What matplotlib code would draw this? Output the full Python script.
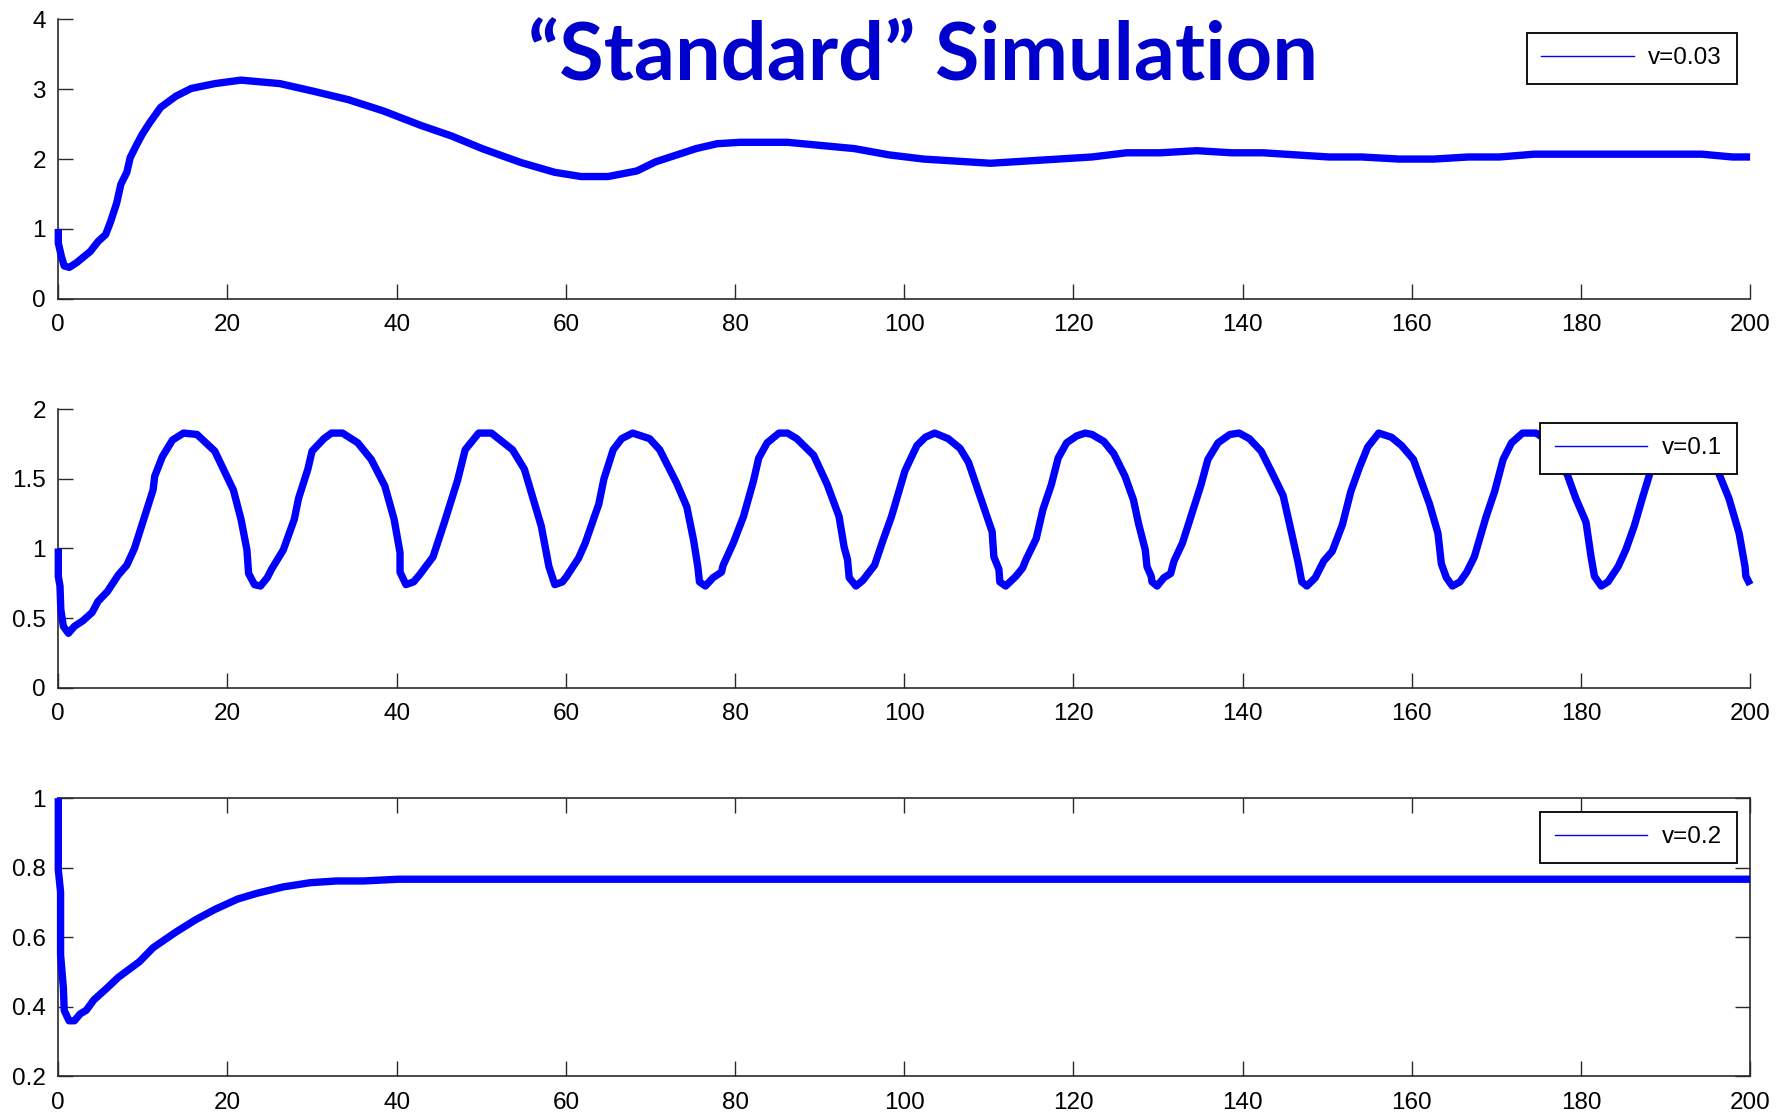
import matplotlib
matplotlib.use("Agg")
import matplotlib.pyplot as plt
from matplotlib.lines import Line2D

plt.rcParams['font.family'] = ['Liberation Sans', 'DejaVu Sans']

# ---------------- data ----------------
title_text = "\u201cStandard\u201d Simulation"
x_ticks = [0, 20, 40, 60, 80, 100, 120, 140, 160, 180, 200]
x_ticklabels = ["0", "20", "40", "60", "80", "100", "120", "140", "160", "180", "200"]

# panel 1: v=0.03
label_1 = "v=0.03"
t_1 = [0, 0, 0.36, 0.7, 1.3, 2.2, 3.1, 3.8, 4.7, 5.6, 6.2, 6.9, 7.4, 8.1, 8.5, 9.2, 9.9,
       10.8, 12.1, 13.9, 15.7, 18.5, 21.6, 26.2, 30.2, 34.3, 38.4, 42.9, 46.5, 50.1, 54.7,
       58.7, 61.8, 65.0, 68.4, 70.6, 75.4, 77.9, 80.6, 86.2, 94.1, 98.2, 102.3, 110.2,
       122.2, 126.3, 130.3, 134.6, 138.7, 142.4, 150.2, 154.1, 158.5, 162.6, 166.7, 170.4,
       174.5, 194.3, 197.9, 200]
y_1 = [1.0, 0.8, 0.61, 0.47, 0.45, 0.52, 0.61, 0.68, 0.82, 0.92, 1.11, 1.37, 1.64, 1.81,
       2.02, 2.19, 2.35, 2.52, 2.74, 2.90, 3.01, 3.08, 3.13, 3.08, 2.97, 2.85, 2.69, 2.48,
       2.33, 2.15, 1.95, 1.81, 1.75, 1.75, 1.83, 1.96, 2.15, 2.22, 2.24, 2.24, 2.15, 2.06,
       2.00, 1.94, 2.03, 2.09, 2.09, 2.12, 2.09, 2.09, 2.03, 2.03, 2.00, 2.00, 2.03, 2.03,
       2.07, 2.07, 2.03, 2.03]
y_ticks_1 = [0, 1, 2, 3, 4]
y_ticklabels_1 = ["0", "1", "2", "3", "4"]

# panel 2: v=0.1
label_2 = "v=0.1"
t_2 = [0, 0, 0.2, 0.3, 0.6, 1.2, 1.9, 2.9, 4.0, 4.7, 5.8, 7.1, 8.1, 9.0, 10.1, 11.2, 11.4,
       12.3, 13.5, 14.8, 16.4, 18.5, 20.7, 21.6, 22.3, 22.5, 23.2, 23.9, 24.7, 25.2, 26.6,
       27.9, 28.4, 29.5, 30.0, 31.4, 32.3, 33.6, 35.4, 37.0, 38.6, 39.7, 40.4, 40.4, 41.1,
       42.0, 42.7, 44.3, 45.6, 47.2, 48.1, 49.7, 51.2, 53.7, 55.1, 57.1, 58.0, 58.7, 59.6,
       60.1, 61.5, 62.3, 63.1, 63.9, 64.5, 65.6, 66.6, 67.9, 69.9, 71.1, 73.1, 74.3, 75.1,
       75.6, 75.8, 76.5, 77.4, 78.4, 78.6, 79.8, 81.0, 82.2, 82.8, 83.8, 85.2, 86.2, 87.3,
       89.3, 90.9, 92.3, 92.9, 93.3, 93.5, 94.3, 95.1, 96.5, 97.5, 98.5, 100.1, 101.5,
       102.5, 103.6, 105.2, 106.6, 107.6, 109.4, 110.4, 110.6, 111.2, 111.3, 112.0, 113.2,
       114.0, 114.4, 115.6, 116.4, 117.4, 118.2, 119.2, 120.4, 121.4, 122.2, 123.6, 124.8,
       126.1, 127.1, 127.7, 128.5, 128.7, 129.2, 129.3, 129.9, 130.7, 131.5, 131.9, 132.9,
       133.9, 135.1, 135.9, 137.1, 138.5, 139.6, 140.8, 142.2, 143.6, 144.8, 145.8, 146.6,
       147.0, 147.6, 148.6, 149.6, 150.6, 151.8, 152.8, 153.8, 154.8, 156.1, 157.6, 158.8,
       160.2, 162.1, 163.1, 163.5, 164.1, 164.8, 165.7, 166.5, 167.4, 168.8, 169.8, 170.8,
       171.8, 173.1, 174.7, 175.7, 178.4, 179.4, 180.6, 181.2, 181.6, 182.4, 183.2, 184.4,
       185.3, 186.3, 187.3, 188.1, 189.5, 191.0, 192.5, 194.5, 196.3, 197.5, 198.7, 199.4,
       199.5, 200.0]
y_2 = [1.0, 0.8, 0.73, 0.56, 0.44, 0.39, 0.44, 0.48, 0.54, 0.62, 0.69, 0.81, 0.88, 1.00,
       1.21, 1.42, 1.52, 1.66, 1.78, 1.83, 1.82, 1.70, 1.42, 1.21, 0.99, 0.82, 0.74, 0.73,
       0.79, 0.85, 0.99, 1.21, 1.36, 1.57, 1.70, 1.79, 1.83, 1.83, 1.76, 1.64, 1.45, 1.21,
       0.97, 0.83, 0.74, 0.76, 0.81, 0.94, 1.18, 1.49, 1.71, 1.83, 1.83, 1.71, 1.57, 1.16,
       0.87, 0.74, 0.76, 0.80, 0.93, 1.04, 1.18, 1.32, 1.50, 1.71, 1.79, 1.83, 1.79, 1.71,
       1.47, 1.30, 1.06, 0.87, 0.76, 0.73, 0.79, 0.83, 0.88, 1.04, 1.23, 1.49, 1.65, 1.76,
       1.83, 1.83, 1.79, 1.67, 1.46, 1.23, 1.01, 0.92, 0.79, 0.73, 0.77, 0.88, 1.06, 1.23,
       1.56, 1.74, 1.80, 1.83, 1.79, 1.72, 1.62, 1.30, 1.12, 0.94, 0.85, 0.76, 0.73, 0.80,
       0.86, 0.92, 1.07, 1.28, 1.46, 1.65, 1.76, 1.81, 1.83, 1.82, 1.77, 1.68, 1.52, 1.35,
       1.18, 0.99, 0.87, 0.80, 0.76, 0.73, 0.79, 0.82, 0.91, 1.04, 1.23, 1.46, 1.64, 1.76,
       1.82, 1.83, 1.79, 1.70, 1.53, 1.38, 1.11, 0.89, 0.76, 0.73, 0.79, 0.91, 0.98, 1.17,
       1.41, 1.58, 1.73, 1.83, 1.80, 1.74, 1.64, 1.32, 1.11, 0.89, 0.79, 0.73, 0.76, 0.83,
       0.94, 1.23, 1.41, 1.64, 1.76, 1.83, 1.83, 1.79, 1.53, 1.36, 1.19, 0.94, 0.80, 0.73,
       0.76, 0.87, 0.99, 1.16, 1.37, 1.53, 1.76, 1.83, 1.80, 1.68, 1.54, 1.36, 1.11, 0.87,
       0.80, 0.74]
y_ticks_2 = [0, 0.5, 1, 1.5, 2]
y_ticklabels_2 = ["0", "0.5", "1", "1.5", "2"]

# panel 3: v=0.2
label_3 = "v=0.2"
t_3 = [0, 0, 0.27, 0.27, 0.6, 0.7, 1.27, 1.9, 2.6, 3.3, 4.2, 5.8, 7.1, 9.6, 11.2, 13.0,
       13.9, 16.2, 18.5, 21.2, 23.4, 26.6, 29.8, 32.9, 36.1, 40.2, 200]
y_3 = [1.0, 0.795, 0.73, 0.55, 0.455, 0.39, 0.36, 0.36, 0.38, 0.39, 0.42, 0.455, 0.485,
       0.53, 0.57, 0.60, 0.615, 0.65, 0.68, 0.71, 0.726, 0.745, 0.757, 0.762, 0.762,
       0.767, 0.767]
y_ticks_3 = [0.2, 0.4, 0.6, 0.8, 1.0]
y_ticklabels_3 = ["0.2", "0.4", "0.6", "0.8", "1"]

# ---------------- style ----------------
LINE_COLOR = "#0000FF"
TITLE_COLOR = "#0000CC"
SPINE_COLOR = "#2a2a2a"
FS = 17.5

fig = plt.figure(figsize=(17.88, 11.12), dpi=100)
left, width = 0.0326, 0.9462
rects = [
    [left, 0.7313, width, 0.2513],
    [left, 0.3817, width, 0.2501],
    [left, 0.0320, width, 0.2502],
]
panels = [
    (t_1, y_1, label_1, (0, 4), y_ticks_1, y_ticklabels_1, False),
    (t_2, y_2, label_2, (0, 2), y_ticks_2, y_ticklabels_2, False),
    (t_3, y_3, label_3, (0.2, 1), y_ticks_3, y_ticklabels_3, True),
]

for rect, (tt, yy, lab, ylim, yt, ytl, boxed) in zip(rects, panels):
    ax = fig.add_axes(rect)
    ax.plot(tt, yy, color=LINE_COLOR, lw=5.3, solid_joinstyle="round",
            solid_capstyle="butt", clip_on=False, zorder=3)
    ax.set_xlim(0, 200)
    ax.set_ylim(*ylim)
    ax.set_xticks(x_ticks)
    ax.set_xticklabels(x_ticklabels)
    ax.set_yticks(yt)
    ax.set_yticklabels(ytl)
    for sp in ax.spines.values():
        sp.set_color(SPINE_COLOR)
        sp.set_linewidth(1.2)
    if boxed:
        ax.tick_params(top=True, right=True)
    else:
        ax.spines["top"].set_visible(False)
        ax.spines["right"].set_visible(False)
    ax.tick_params(direction="in", length=11, width=1.0, color=SPINE_COLOR,
                   labelcolor="black", labelsize=FS)
    ax.tick_params(axis="x", pad=11)
    ax.tick_params(axis="y", pad=9)
    handle = Line2D([], [], color=LINE_COLOR, lw=1.0)
    leg = ax.legend([handle], [lab], loc="upper right", fontsize=FS, frameon=True,
                    fancybox=False, framealpha=1.0, edgecolor="black",
                    borderpad=0.6, handlelength=3.8, handletextpad=0.6,
                    borderaxespad=0.55)
    leg.get_frame().set_linewidth(1.3)
    leg.set_zorder(10)

title = fig.text(0.5162, 0.928, title_text, color=TITLE_COLOR, fontfamily="Lato",
                 fontweight="bold", fontsize=56, ha="center", va="baseline", zorder=20)
fig.canvas.draw()
w = title.get_window_extent().width
title.set_fontsize(56 * 790.0 / w)

fig.savefig("out.png", dpi=100, facecolor="white")
